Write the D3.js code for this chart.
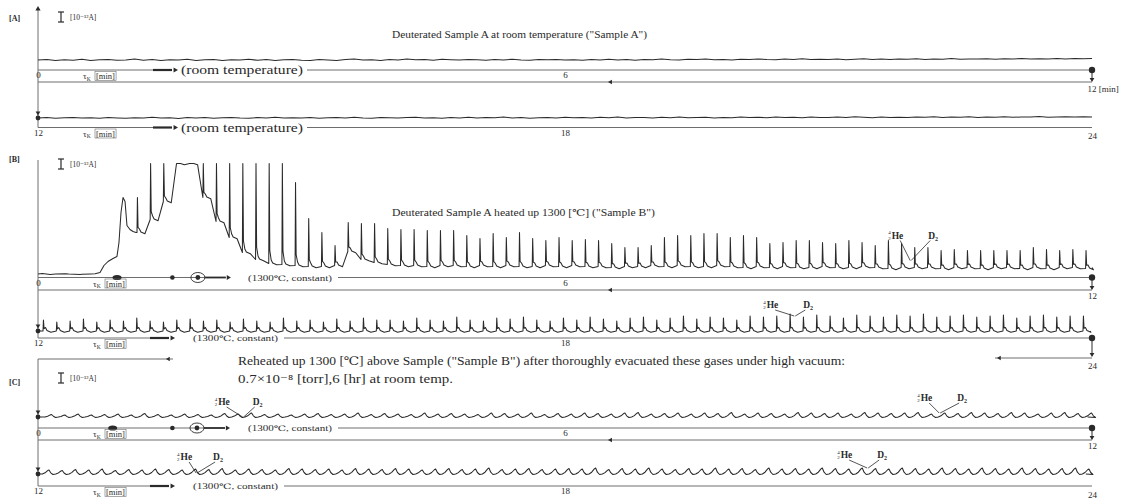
<!DOCTYPE html>
<html><head><meta charset="utf-8">
<script src="https://cdn.jsdelivr.net/npm/d3@7"></script>
<style>body{margin:0;background:#fff}svg{display:block}</style>
</head><body>
<svg id="c" width="1130" height="499"></svg>
<script>
// ================= DATA =================
const panelLabels = ["[A]", "[B]", "[C]"];
const scaleLabel = "[10\u207B\u00B9\u00B2A]";
const titleA = "Deuterated Sample A at room temperature (\"Sample A\")";
const titleB = "Deuterated Sample A heated up 1300 [\u2103]    (\"Sample B\")";
const titleC1 = "Reheated up 1300 [\u2103] above Sample (\"Sample B\") after thoroughly evacuated these gases under high vacuum:";
const titleC2 = "0.7\u00D710\u207B\u2078 [torr],6 [hr] at room temp.";
const conditionA = "(room temperature)";
const conditionBC = "(1300\u2103, constant)";
const ticksRow1 = [0, 6, 12];
const ticksRow2 = [12, 18, 24];
const axisUnit = "[min]";
const fullScale = 11.4;            // recorder full scale, units of 1e-12 A
const heatMarksB = [0.90, 1.53, 1.82];   // heating programme marks [min]
const heatMarksC = [0.85, 1.53, 1.81];

// Sample A (room temperature), one reading every 0.1 min
const traceA1 = [
1.00,1.06,0.96,1.03,0.98,1.08,0.95,1.02,1.05,0.97,
1.01,1.09,0.98,1.04,0.94,1.03,1.00,1.07,0.96,1.02,
1.05,0.95,1.03,0.99,1.08,0.97,1.04,0.95,1.02,1.06,
0.98,0.96,1.05,1.01,0.95,1.04,1.10,0.99,1.03,0.96,
1.06,1.00,1.09,1.02,1.05,0.98,1.07,1.03,1.00,1.06,
1.02,0.97,1.05,1.00,1.08,1.01,0.97,1.04,1.02,1.06,
0.99,1.03,0.97,1.05,1.01,1.08,1.00,1.04,0.98,1.06,
1.02,1.09,1.03,1.00,1.07,1.04,1.10,1.02,1.06,1.01,
1.08,1.04,1.11,1.05,1.02,1.09,1.06,1.12,1.04,1.08,
1.05,1.10,1.03,1.07,1.12,1.06,1.09,1.04,1.11,1.07,
1.13,1.06,1.10,1.08,1.14,1.07,1.11,1.09,1.13,1.08,
1.12,1.10,1.15,1.09,1.13,1.11,1.16,1.10,1.14,1.12,
1.15];
const traceA2 = [
0.95,0.99,0.92,0.97,1.01,0.94,0.98,0.93,1.00,0.96,
0.92,0.98,0.95,1.02,0.94,0.97,0.91,0.99,0.96,1.01,
0.93,0.97,1.00,0.95,0.92,0.99,0.96,1.03,0.94,0.98,
0.95,1.01,0.93,0.97,0.99,0.94,1.02,0.96,0.93,1.00,
0.97,0.94,0.99,1.03,0.95,0.98,0.92,1.00,0.96,1.02,
0.94,0.99,0.97,1.04,0.95,1.00,0.93,0.98,1.01,0.96,
1.03,0.97,1.00,0.95,1.02,0.98,1.05,0.96,1.01,0.99,
0.95,1.02,0.98,1.06,0.97,1.00,1.03,0.96,1.01,0.98,
1.04,0.99,1.02,0.97,1.05,1.00,1.03,0.98,1.06,1.01,
0.99,1.04,1.00,1.07,1.02,0.98,1.05,1.01,1.03,0.99,
1.06,1.02,1.08,1.00,1.04,1.02,1.07,1.01,1.05,1.03,
1.08,1.02,1.06,1.04,1.09,1.03,1.05,1.07,1.04,1.08,
1.06];

// Sample B, 0-12 min: slow part before pulsed sampling [min, value]
const traceB1Start = [[0,0.35],[0.05,0.4],[0.14,0.3],[0.2,0.34],[0.31,0.38],[0.35,0.35],
 [0.48,0.3],[0.5,0.33],[0.6,0.36],[0.65,0.38],[0.706,0.5],[0.751,1.2],[0.797,1.6],[0.854,1.9],
 [0.899,2.1],[0.922,3.5],[0.945,6.5],[0.968,8.0],[0.991,7.6],[1.013,5.2],[1.047,4.8],[1.082,4.6],[1.116,4.5]];
const spikeB1Start = 1.127, spikeB1Period = 0.15;
const spikeB1Base = [4.5,5.8,7.6,11.4,11.4,8.0,5.6,4.0,2.5,1.8,1.4,1.3,1.2,1.1,1.1,1.2,2.6,1.8,1.5,
 1.3,1.2,1.2,1.1,1.2,1.2,1.1,1.2,1.1,1.2, 1.1,1.1,1.2,1.1,1.2,1.1,1.1,1.0,1.1,1.1, 1.2,1.1,1.2,1.1,1.1,1.2,1.1,1.0,1.1,
 1.0,1.1,1.0,1.0,1.1,1.0,1.0,1.1,1.0,0.9, 1.0,1.0,1.0,0.9,1.0,1.0,0.9,1.0,1.0,0.9, 1.0,0.9,1.0,1.0,0.9];
const spikeB1Peak = [8.0,11.4,11.4,11.4,11.4,11.4,11.4,11.4,11.4,11.4,11.4,11.4,9.5,5.9,4.5,3.2,5.5,5.4,5.4,
 4.9,4.8,4.8,4.7,4.7,4.7,4.2,3.9,4.4,4.0, 4.5,3.9,3.7,4.0,3.7,3.8,3.7,3.4,3.0,3.0, 3.2,4.0,4.2,4.2,4.4,4.4,4.0,4.2,4.0,
 3.4,3.5,3.7,3.7,3.5,3.4,3.7,3.5,3.2,3.7, 3.4,3.0,3.0,2.7,2.8,2.7,2.7,2.7,2.7,2.7, 3.0,2.8,2.7,2.8,2.7];
const traceB1End = [[12.0, 1.0]];

// Sample B, 12-24 min
const spikeB2Start = 12.057, spikeB2Period = 0.1518, spikeB2Base = 0.7;
const spikeB2Peak = [1.8,1.6,1.7,1.9,1.6,1.8,1.7,2.0,1.7,1.6, 1.8,1.9,1.7,1.8,1.6,1.9,1.7,1.6,2.0,1.7, 1.8,1.6,1.9,1.7,2.0,1.8,
 1.8,1.7,2.0,1.8,1.7,2.1,1.8,1.7,2.0,1.9, 2.1,1.8,1.7,2.0,1.8,2.1,1.9,1.7,2.0,2.1, 1.8,2.0,2.2,1.9,2.1,2.0,1.8,2.2,
 2.1,2.2,2.4,2.1,2.3,2.2,2.0,2.3,2.2,2.1, 2.3,2.2,2.4,2.1,2.2,2.3,2.1,2.2,2.3,2.0, 2.2,2.3,2.1,2.2,2.2];

// Sample C (re-heated)
const bumpC1Start = 0.08, bumpC1Period = 0.1518, bumpC1Base = 1.1;
const bumpC1Peak = [1.35,1.3,1.4,1.3,1.35,1.4,1.3,1.45,1.35,1.3, 1.4,1.35,1.3,1.45,1.4,1.5,1.35,1.4,1.3,1.4,
 1.45,1.35,1.4,1.5,1.35,1.45,1.4,1.35,1.5,1.4, 1.45,1.4,1.35,1.5,1.45,1.4,1.5,1.35,1.45,1.4,
 1.5,1.45,1.4,1.5,1.55,1.4,1.45,1.5,1.4,1.5, 1.45,1.55,1.4,1.5,1.45,1.4,1.55,1.5,1.45,1.5,
 1.4,1.55,1.5,1.45,1.5,1.55,1.4,1.5,1.45,1.55, 1.5,1.45,1.55,1.5,1.4,1.5,1.55,1.45,1.5];
const bumpC2Start = 12.05, bumpC2Period = 0.1518, bumpC2Base = 1.2;
const bumpC2Peak = [1.6,1.55,1.65,1.6,1.7,1.55,1.65,1.6,1.7,1.65, 1.6,1.7,1.65,1.75,1.6,1.7,1.65,1.6,1.75,1.7,
 1.65,1.7,1.6,1.75,1.7,1.65,1.75,1.7,1.6,1.7, 1.75,1.65,1.7,1.8,1.65,1.7,1.75,1.65,1.7,1.75,
 1.7,1.8,1.65,1.75,1.7,1.8,1.7,1.65,1.75,1.7, 1.8,1.7,1.75,1.65,1.8,1.7,1.75,1.7,1.8,1.75,
 1.7,1.8,1.75,1.7,1.8,1.75,1.7,1.8,1.75,1.7, 1.8,1.75,1.7,1.8,1.75,1.7,1.75,1.8,1.7];

// 4He / D2 peak annotations [row, min, value]
const peakNotes = [["B1",9.93,1.7],["B2",20.61,2.2],["C1",2.33,1.1],["C1",10.26,1.5],["C2",13.80,1.3],["C2",21.44,1.8]];

// ================= LAYOUT =================
const svg = d3.select("#c");
const X0 = 38, X1 = 1092, unitPx = 10;
const serif = "'Liberation Serif','DejaVu Serif',serif";
const ink = "#2a2a2a", axisInk = "#6e6e6e";
const rows = {
  A1:{axisY:70,   secondY:82,  t0:0,  endDy:14},
  A2:{axisY:127.5,             t0:12, endDy:3},
  B1:{axisY:277.5, secondY:290, t0:0, endDy:13.5},
  B2:{axisY:338,  dropY:357,   t0:12, endDy:23},
  C1:{axisY:428,  secondY:440, t0:0,  endDy:12.5},
  C2:{axisY:486,               t0:12, endDy:3.5}
};
const noteLayout = [[-22,18,-22],[-31,9,-8],[-28,10,-12],[-22,18,-12],[-19,17,-13],[-30,10,-10]];
for (const k in rows){
  const r = rows[k];
  r.x = d3.scaleLinear().domain([r.t0, r.t0+12]).range([X0, X1]);
  r.y = d3.scaleLinear().domain([0, fullScale]).range([r.axisY, r.axisY - fullScale*unitPx]).clamp(true);
}

function tri(x, y, dir, s){
  s = s || 3;
  let p;
  if (dir==='left')  p=`M${x},${y}L${x+s*1.7},${y-s}L${x+s*1.7},${y+s}Z`;
  if (dir==='right') p=`M${x},${y}L${x-s*1.7},${y-s}L${x-s*1.7},${y+s}Z`;
  if (dir==='down')  p=`M${x},${y}L${x-s},${y-s*1.7}L${x+s},${y-s*1.7}Z`;
  if (dir==='up')    p=`M${x},${y}L${x-s},${y+s*1.7}L${x+s},${y+s*1.7}Z`;
  svg.append("path").attr("d",p).attr("fill",ink);
}
function seg(x1,y1,x2,y2,w,c){
  svg.append("line").attr("x1",x1).attr("y1",y1).attr("x2",x2).attr("y2",y2)
    .attr("stroke",c||axisInk).attr("stroke-width",w||1);
}
function txt(x,y,s,size,opt){
  opt = opt||{};
  const t = svg.append("text").attr("x",x).attr("y",y).attr("font-family",serif)
    .attr("font-size",size).attr("fill",opt.fill||ink).text(s);
  if (opt.weight) t.attr("font-weight",opt.weight);
  if (opt.anchor) t.attr("text-anchor",opt.anchor);
  if (opt.len) t.attr("textLength",opt.len).attr("lengthAdjust","spacingAndGlyphs");
  return t;
}

// ---- pulse builders (shape of each recorded pulse) ----
const spikeShape = [[0,0,0],[0.005,1,0],[0.012,0.12,0.1],[0.028,0,0.35],[0.045,0,0.05],[0.09,0,-0.12]];
const bumpShape  = [[0,0,0],[0.03,0.3,0],[0.06,0.85,0],[0.075,1,0],[0.095,0.3,0],[0.12,0,-0.05]];
function pulses(start, period, base, peaks, shape){
  const pts = [];
  peaks.forEach((p,i)=>{
    const t = start + i*period, b = Array.isArray(base) ? base[i] : base;
    shape.forEach(([dt,f,o]) => pts.push([t+dt, b + f*(p-b) + o]));
  });
  return pts;
}
const traces = {
  A1: traceA1.map((v,i)=>[i*0.1, v]),
  A2: traceA2.map((v,i)=>[12+i*0.1, v]),
  B1: traceB1Start.concat(pulses(spikeB1Start, spikeB1Period, spikeB1Base, spikeB1Peak, spikeShape), traceB1End),
  B2: [[12, spikeB2Base]].concat(pulses(spikeB2Start, spikeB2Period, spikeB2Base, spikeB2Peak, spikeShape), [[23.98, spikeB2Base]]),
  C1: [[0, bumpC1Base]].concat(pulses(bumpC1Start, bumpC1Period, bumpC1Base, bumpC1Peak, bumpShape), [[11.95, bumpC1Base]]),
  C2: [[12, bumpC2Base]].concat(pulses(bumpC2Start, bumpC2Period, bumpC2Base, bumpC2Peak, bumpShape), [[23.93, bumpC2Base]])
};

// ---- frame: left verticals, connectors ----
seg(X0, 9, X0, rows.A2.axisY); tri(X0, 6, 'up', 2.6);
seg(X0, 160, X0, rows.B2.axisY);
seg(X0, 359, X0, rows.C2.axisY);
seg(X0, 359, 173, 359); tri(166, 359, 'left', 2.2);
seg(995, 358, X1, 358); tri(997, 358, 'left', 2.2);

// ---- rows ----
Object.keys(rows).forEach(k=>{
  const r = rows[k], first = (r.t0 === 0);
  const panel = k[0];
  if (panel === 'A'){
    seg(X0, r.axisY, 153, r.axisY);
    seg(153, r.axisY, 172, r.axisY, 2.2, ink); tri(178, r.axisY, 'right', 2.6);
    txt(181, r.axisY+4, conditionA, 12.5, {len:122});
    seg(307, r.axisY, X1, r.axisY);
  } else if (first){
    const marks = panel==='B' ? heatMarksB : heatMarksC;
    const xm = marks.map(t=>r.x(t));
    seg(X0, r.axisY, xm[2]+7, r.axisY);
    svg.append("ellipse").attr("cx",xm[0]).attr("cy",r.axisY).attr("rx",4.5).attr("ry",2.6).attr("fill",ink);
    svg.append("circle").attr("cx",xm[1]).attr("cy",r.axisY).attr("r",2.3).attr("fill",ink);
    svg.append("ellipse").attr("cx",xm[2]).attr("cy",r.axisY).attr("rx",7).attr("ry",5).attr("fill","none").attr("stroke",ink).attr("stroke-width",0.9);
    svg.append("circle").attr("cx",xm[2]).attr("cy",r.axisY).attr("r",2.4).attr("fill",ink);
    seg(xm[2]+7, r.axisY, xm[2]+28, r.axisY, 1.8, ink); tri(xm[2]+33, r.axisY, 'right', 2.4);
    txt(248, r.axisY+3, conditionBC, 7.5, {len:84});
    seg(338, r.axisY, X1, r.axisY);
  } else {
    seg(X0, r.axisY, 150, r.axisY);
    seg(150, r.axisY, 169, r.axisY, 2.2, ink); tri(175, r.axisY, 'right', 2.6);
    txt(193, r.axisY+3, conditionBC, 7.5, {len:85});
    seg(284, r.axisY, X1, r.axisY);
  }
  if (first){
    seg(X0, r.secondY, X1, r.secondY);
    tri(608, r.secondY, 'left', 2.3);
    svg.append("circle").attr("cx",X1).attr("cy",r.axisY).attr("r",3.2).attr("fill",ink);
    seg(X1, r.axisY, X1, r.secondY-3, 1, ink); tri(X1, r.secondY, 'down', 2.4);
  }
  if (r.dropY){
    svg.append("circle").attr("cx",X1).attr("cy",r.axisY).attr("r",3.2).attr("fill",ink);
    seg(X1, r.axisY, X1, r.dropY-3, 1, ink); tri(X1, r.dropY, 'down', 2.4);
  }
  const ticks = first ? ticksRow1 : ticksRow2;
  const g = svg.append("g").attr("transform",`translate(0,${r.axisY+2})`)
    .call(d3.axisBottom(r.x).tickValues(ticks).tickSize(0).tickPadding(0)
      .tickFormat(d => (k==='A1' && d===12) ? "12 " + axisUnit : d));
  g.select(".domain").remove();
  g.selectAll("text").attr("font-family",serif).attr("font-size",9).attr("fill",ink);
  g.selectAll(".tick").filter(d=>d===ticks[2]).select("text")
    .attr("transform",`translate(0,${r.endDy})`)
    .attr("text-anchor", k==='A1' ? "start" : "middle").attr("dx", k==='A1' ? -5 : 0);
  const tx = panel==='A' ? 83 : 93, ty = r.axisY + 9;
  const tl = svg.append("text").attr("x",tx).attr("y",ty).attr("font-family",serif).attr("font-size",9).attr("fill",ink);
  tl.append("tspan").text("\u03C4");
  tl.append("tspan").attr("font-size",5.5).attr("dy",1.5).text("K");
  const ul = txt(tx+13, ty, axisUnit, 8.5);
  const bb = ul.node().getBBox();
  svg.append("rect").attr("x",bb.x-1).attr("y",bb.y+0.5).attr("width",bb.width+2).attr("height",bb.height-1)
    .attr("fill","none").attr("stroke",axisInk).attr("stroke-width",0.6);
  const line = d3.line().x(d=>r.x(d[0])).y(d=>r.y(d[1]));
  svg.append("path").attr("d", line(traces[k])).attr("fill","none")
    .attr("stroke",ink).attr("stroke-width",1.05).attr("stroke-linejoin","round");
  if (!first || k==='C1'){
    const y0 = r.y(traces[k][0][1]);
    tri(X0, y0-2.5, 'down', 2.4);
    svg.append("circle").attr("cx",X0).attr("cy",y0).attr("r",2.4).attr("fill",ink);
  }
});

// ---- panel labels, scale bars, titles ----
[[21,12],[162,159],[385,373]].forEach(([ly,sy],i)=>{
  txt(9, ly, panelLabels[i], 8, {weight:"bold"});
  const r = rows[["A1","B1","C1"][i]];
  const h = r.y(0) - r.y(1);
  seg(61, sy, 61, sy+h, 1.2, ink); seg(58, sy, 64, sy, 1.2, ink); seg(58, sy+h, 64, sy+h, 1.2, ink);
  txt(70, sy+7.5, scaleLabel, 7.5);
});
txt(392, 38, titleA, 9.5, {len:255});
txt(392, 216, titleB, 9.5, {len:263});
txt(238, 365, titleC1, 11.5, {len:607});
txt(238, 383, titleC2, 11.5, {len:215});

// ---- 4He / D2 annotations ----
peakNotes.forEach(([rk,t,v],i)=>{
  const r = rows[rk], px = r.x(t), py = r.y(v);
  const [dh, dd, dy] = noteLayout[i];
  const hx = px+dh, by = py+dy;
  txt(hx, by-4.5, "4", 5);
  txt(hx, by+1, "2", 5);
  txt(hx+3.5, by, "He", 9.5, {weight:"bold"});
  const dt = svg.append("text").attr("x",px+dd).attr("y",by).attr("font-family",serif).attr("font-size",9.5).attr("font-weight","bold").attr("fill",ink);
  dt.append("tspan").text("D");
  dt.append("tspan").attr("font-size",6).attr("dy",2).text("2");
  seg(hx+12, by+2, px, py, 0.8, ink);
  seg(px+dd+2, by+2, px+1, py, 0.8, ink);
});
</script>
</body></html>
